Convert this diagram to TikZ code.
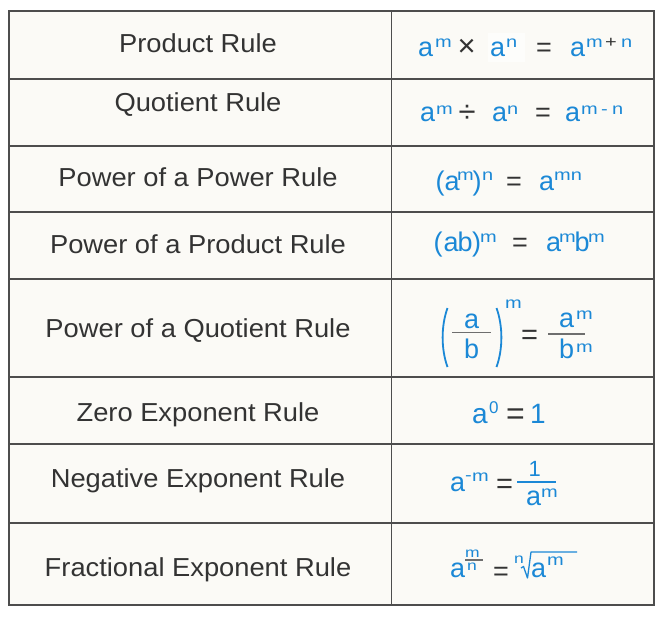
\documentclass[tikz,border=0pt]{standalone}
\usepackage{fontspec}
\setmainfont{Liberation Sans}
\newfontfamily\labfam{Liberation Sans}[FakeStretch=1.05]
\newfontfamily\supfam{Liberation Sans}[FakeStretch=1.25]
\definecolor{blu}{HTML}{1B88D6}
\definecolor{ink}{HTML}{333333}
\definecolor{cellbg}{HTML}{FBFAF6}
\definecolor{grid}{HTML}{4D4D4D}
\definecolor{barg}{HTML}{6E6E6E}
\newcommand\mainsz{\fontsize{27}{27}\selectfont}
\newcommand\supsz{\supfam\fontsize{16}{16}\selectfont}
\newcommand\tinysz{\supfam\fontsize{14}{14}\selectfont}
\tikzset{
  lbl/.style={anchor=base, inner sep=0pt, text=ink, font=\labfam\fontsize{26}{26}\selectfont},
  gb/.style={anchor=base west, inner sep=0pt, text=blu, font=\mainsz},
  gs/.style={anchor=base west, inner sep=0pt, text=blu, font=\supsz},
  gk/.style={anchor=base west, inner sep=0pt, text=ink, font=\mainsz},
  gks/.style={anchor=base west, inner sep=0pt, text=ink, font=\supsz},
  gt/.style={anchor=base west, inner sep=0pt, text=blu, font=\tinysz},
  tab/.style={draw=grid, line width=1.6pt},
  fbar/.style={draw=barg, line width=1.4pt},
  bstroke/.style={draw=blu, line width=1.8pt},
}
\begin{document}
\begin{tikzpicture}[x=1pt,y=-1pt]
\useasboundingbox (0,0) rectangle (666,616);
% table
\fill[cellbg] (9,11) rectangle (654,605);
\fill[white, opacity=0.6] (488,33) rectangle (525,62);
\draw[tab] (9,11) rectangle (654,605);
\foreach \yy in {79,146,212,279,377,444,523} \draw[tab] (9,\yy) -- (654,\yy);
\draw[tab] (391.5,11) -- (391.5,605);
% labels
\node[lbl] (l1) at (198,52.3) {Product Rule};
\node[lbl] (l2) at (198,111.5) {Quotient Rule};
\node[lbl] (l3) at (198,186) {Power of a Power Rule};
\node[lbl] (l4) at (198,253.3) {Power of a Product Rule};
\node[lbl] (l5) at (198,337.3) {Power of a Quotient Rule};
\node[lbl] (l6) at (198,421) {Zero Exponent Rule};
\node[lbl] (l7) at (198,487) {Negative Exponent Rule};
\node[lbl] (l8) at (198,576) {Fractional Exponent Rule};
% row 1
\node[gb] (r1a) at (418,56) {a};
\node[gs] (r1m) at (435,47) {m};
\node[gk, font=\fontsize{31}{31}\selectfont] (r1x) at (457.5,56) {×};
\node[gb] (r1b) at (490,56) {a};
\node[gs] (r1n) at (506,47) {n};
\node[gk] (r1e) at (536,56) {=};
\node[gb] (r1c) at (570,56) {a};
\node[gs] (r1s) at (586,47) {m};
\node[gks] (r1p) at (605,47) {+};
\node[gs] (r1t) at (621,47) {n};
% row 2
\node[gb] (r2a) at (420,121.7) {a};
\node[gs] (r2m) at (436,114.5) {m};
\node[gk, font=\fontsize{31}{31}\selectfont] (r2d) at (458.5,122.5) {÷};
\node[gb] (r2b) at (492,121.7) {a};
\node[gs] (r2n) at (507,114.5) {n};
\node[gk] (r2e) at (535,121.7) {=};
\node[gb] (r2c) at (565,121.7) {a};
\node[gs] (r2s) at (581,114.5) {m};
\node[gs] (r2h) at (601,114.5) {-};
\node[gs] (r2t) at (612,114.5) {n};
% row 3
\node[gb] (r3o) at (435.5,190.7) {(};
\node[gb] (r3a) at (444.5,190.7) {a};
\node[gs] (r3m) at (457,180.5) {m};
\node[gb] (r3c) at (472.5,190.7) {)};
\node[gs] (r3n) at (482,180.5) {n};
\node[gk] (r3e) at (506,190.7) {=};
\node[gb] (r3b) at (539,190.7) {a};
\node[gs] (r3s) at (554,180.5) {mn};
% row 4
\node[gb] (r4o) at (433.5,251.7) {(};
\node[gb] (r4a) at (443.5,251.7) {a};
\node[gb] (r4b) at (457.5,251.7) {b};
\node[gb] (r4c) at (472,251.7) {)};
\node[gs] (r4m) at (480,242) {m};
\node[gk] (r4e) at (512,251.7) {=};
\node[gb] (r4d) at (546,251.7) {a};
\node[gs] (r4s) at (559,242) {m};
\node[gb] (r4f) at (574.5,251.7) {b};
\node[gs] (r4t) at (588,242) {m};
% row 5
\draw[bstroke] (447.5,308) .. controls (441,326) and (441,349) .. (447.5,367);
\draw[bstroke] (496.5,308) .. controls (503,326) and (503,349) .. (496.5,367);
\draw[fbar] (452,332.7) -- (491,332.7);
\node[gb] (r5a) at (464,328) {a};
\node[gb] (r5b) at (464,358) {b};
\node[gs] (r5m) at (505,308) {m};
\node[gk, font=\fontsize{29}{29}\selectfont] (r5e) at (521,344.5) {=};
\draw[fbar] (548,334) -- (585,334);
\node[gb] (r5c) at (559,327) {a};
\node[gs] (r5d) at (576,319) {m};
\node[gb] (r5f) at (559,358) {b};
\node[gs] (r5g) at (576,352) {m};
% row 6
\node[gb, font=\fontsize{28}{28}\selectfont] (r6a) at (472,423) {a};
\node[gs, font=\fontsize{17}{17}\selectfont] (r6z) at (489,413) {0};
\node[gk, font=\fontsize{32}{32}\selectfont] (r6e) at (506,424) {=};
\node[gb, font=\fontsize{28}{28}\selectfont] (r6o) at (530,423) {1};
% row 7
\node[gb] (r7a) at (450,491.7) {a};
\node[gs] (r7h) at (465,480) {-};
\node[gs] (r7m) at (472,481) {m};
\node[gk, font=\fontsize{29}{29}\selectfont] (r7e) at (496,493) {=};
\draw[draw=blu, line width=1.3pt] (517,482) -- (556,482);
\node[gb, font=\fontsize{22}{22}\selectfont] (r7o) at (528.5,476) {1};
\node[gb] (r7b) at (526,505) {a};
\node[gs] (r7s) at (541,497) {m};
% row 8
\node[gb] (r8a) at (450,577) {a};
\node[gt] (r8m) at (465,557.5) {m};
\draw[draw=barg, line width=1.2pt] (465,560) -- (483,560);
\node[gt] (r8n) at (467,570.5) {n};
\node[gk] (r8e) at (493,580) {=};
\node[gt] (r8r) at (514,563) {n};
\draw[draw=blu, line width=1.3pt, line join=round] (521,568) -- (523.5,566.5) -- (527.5,578) -- (531,552) -- (577,552);
\node[gb] (r8b) at (531,577) {a};
\node[gs] (r8s) at (547,565) {m};
\end{tikzpicture}
\end{document}
